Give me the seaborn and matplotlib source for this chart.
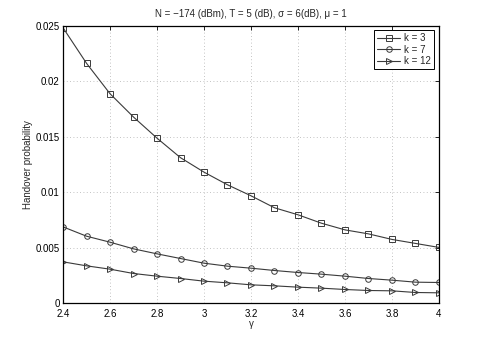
import numpy as np
import pandas as pd
import matplotlib
matplotlib.use('Agg')
import matplotlib.pyplot as plt
import seaborn as sns

# Data
gamma = [2.4, 2.5, 2.6, 2.7, 2.8, 2.9, 3.0, 3.1, 3.2, 3.3, 3.4, 3.5, 3.6, 3.7, 3.8, 3.9, 4.0]
k3 = [0.0248, 0.0216, 0.01886, 0.01676, 0.01486, 0.0131, 0.0118, 0.01066, 0.00967,
      0.00859, 0.00796, 0.0072, 0.0066, 0.00624, 0.00574, 0.00538, 0.00502]
k7 = [0.00687, 0.00603, 0.00549, 0.00489, 0.00444, 0.00402, 0.0036, 0.00333, 0.00315,
      0.00294, 0.00276, 0.00261, 0.00243, 0.00222, 0.00207, 0.00189, 0.00186]
k12 = [0.00372, 0.00336, 0.00306, 0.00267, 0.00243, 0.00222, 0.00198, 0.00183, 0.00165,
       0.00156, 0.00144, 0.00135, 0.00123, 0.00114, 0.00111, 0.00096, 0.00093]
labels = ['k = 3', 'k = 7', 'k = 12']
xticks = [2.4, 2.6, 2.8, 3.0, 3.2, 3.4, 3.6, 3.8, 4.0]
xtick_labels = ['2.4', '2.6', '2.8', '3', '3.2', '3.4', '3.6', '3.8', '4']
yticks = [0, 0.005, 0.01, 0.015, 0.02, 0.025]
ytick_labels = ['0', '0.005', '0.01', '0.015', '0.02', '0.025']

df = pd.DataFrame({
    'gamma': gamma * 3,
    'prob': k3 + k7 + k12,
    'k': [labels[0]] * len(gamma) + [labels[1]] * len(gamma) + [labels[2]] * len(gamma),
})

sns.set_style("white")
plt.rcParams['font.family'] = ['Liberation Sans', 'DejaVu Sans']
plt.rcParams['font.size'] = 7

fig = plt.figure(figsize=(4.85, 3.41), dpi=100)
ax = fig.add_axes([0.130, 0.111, 0.775, 0.814])

line_color = '#3a3a3a'
sns.lineplot(data=df, x='gamma', y='prob', hue='k', style='k',
             palette=[line_color] * 3, markers=['s', 'o', '>'], dashes=False,
             linewidth=0.8, markersize=4, markerfacecolor='none',
             markeredgecolor=line_color, markeredgewidth=0.7, ax=ax)

ax.set_xlim(2.4, 4.0)
ax.set_ylim(0, 0.025)
ax.set_xticks(xticks)
ax.set_xticklabels(xtick_labels)
ax.set_yticks(yticks)
ax.set_yticklabels(ytick_labels)
ax.grid(True, linestyle=(0, (1, 3)), color='#b0b0b0', linewidth=0.6)
ax.tick_params(direction='in', length=3, width=0.6, top=True, right=True,
               labelsize=7, colors='black')
ax.tick_params(axis='x', pad=4)
ax.tick_params(axis='y', pad=2.5)
for sp in ax.spines.values():
    sp.set_visible(True)
    sp.set_color('black')
    sp.set_linewidth(0.9)

ax.set_xlabel('γ', fontsize=7, labelpad=0)
ax.set_ylabel('Handover probability', fontsize=7, labelpad=2)
ax.set_title('N = −174 (dBm), T = 5 (dB), σ = 6(dB), μ = 1', fontsize=7, pad=6)

leg = ax.legend(loc='upper right', fontsize=7, frameon=True, fancybox=False,
                edgecolor='black', framealpha=1, handlelength=2.4,
                borderaxespad=0.5, labelspacing=0.15, borderpad=0.3,
                handletextpad=0.4)
leg.get_frame().set_linewidth(0.7)
leg.set_title(None)

fig.savefig('out.png', dpi=100)
